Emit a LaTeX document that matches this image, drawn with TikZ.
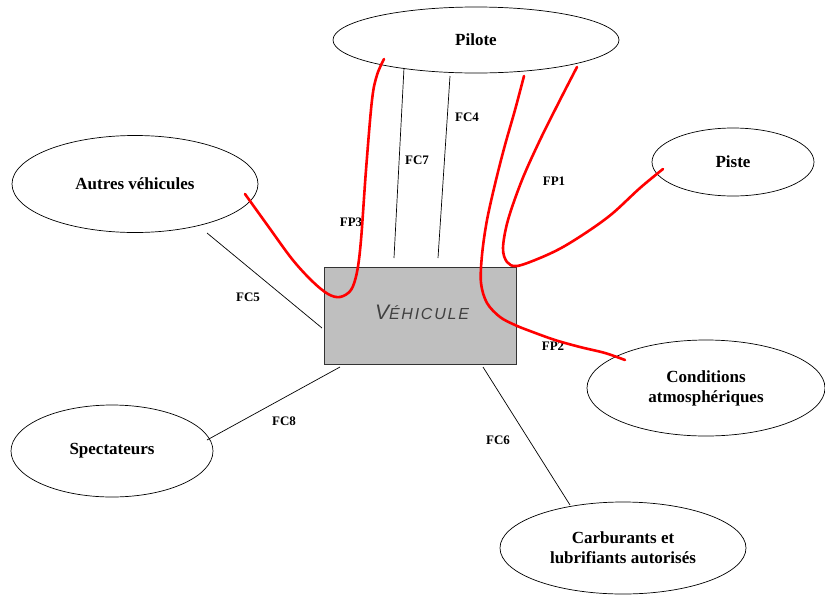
\documentclass[tikz,border=0pt]{standalone}
\usepackage{fontspec}
\setmainfont{Liberation Serif}
\newfontfamily\vehfont[LetterSpace=11]{Liberation Sans}
\usetikzlibrary{shapes.geometric}
\begin{document}
\begin{tikzpicture}[x=1pt,y=-1pt,
  ent/.style={ellipse,draw=black,line width=0.7pt,fill=white,inner sep=0pt,
    font=\fontsize{17}{20}\selectfont\bfseries,align=center},
  lbl/.style={font=\fontsize{13}{15}\selectfont\bfseries,inner sep=0pt},
  fc/.style={draw=black,line width=0.7pt},
  fp/.style={draw=red,line width=2.6pt,line cap=round,line join=round},
]
\useasboundingbox (0,0) rectangle (825,595);

% entities
\node[ent,minimum width=286pt,minimum height=66pt] (pilote) at (476,40) {Pilote};
\node[ent,minimum width=246pt,minimum height=97pt] (autres) at (135,184) {Autres véhicules};
\node[ent,minimum width=162pt,minimum height=68pt] (piste) at (733,162) {Piste};
\node[ent,minimum width=238pt,minimum height=96pt] (cond) at (706,388) {Conditions\\atmosphériques};
\node[ent,minimum width=202pt,minimum height=92pt] (spect) at (112,451) {Spectateurs};
\node[ent,minimum width=246pt,minimum height=92pt] (carb) at (623,548) {Carburants et\\lubrifiants autorisés};

% vehicle
\node[draw=black!80,line width=0.7pt,fill=black!25,minimum width=192pt,minimum height=97pt,inner sep=0pt]
  (veh) at (420,315.5) {};
\node[inner sep=0pt,text=black!75] (vehlbl) at (422,312)
  {\vehfont\itshape\fontsize{21}{21}\selectfont V\fontsize{16}{16}\selectfont ÉHICULE};

% black connector end points
\coordinate (fc7a) at (404,68);  \coordinate (fc7b) at (394,258);
\coordinate (fc4a) at (450,76);  \coordinate (fc4b) at (438,258);
\coordinate (fc5a) at (207,233); \coordinate (fc5b) at (322,328);
\coordinate (fc8a) at (340,367); \coordinate (fc8b) at (207,440);
\coordinate (fc6a) at (483,367); \coordinate (fc6b) at (570,505);

\draw[fc] (fc7a) -- (fc7b);
\draw[fc] (fc4a) -- (fc4b);
\draw[fc] (fc5a) -- (fc5b);
\draw[fc] (fc8a) -- (fc8b);
\draw[fc] (fc6a) -- (fc6b);

% labels
\node[lbl] (lfc4) at (467,117) {FC4};
\node[lbl] (lfc7) at (417,160) {FC7};
\node[lbl] (lfp3) at (351,222) {FP3};
\node[lbl] (lfp1) at (554,181) {FP1};
\node[lbl] (lfc5) at (248,297) {FC5};
\node[lbl] (lfp2) at (553,346) {FP2};
\node[lbl] (lfc8) at (284,421) {FC8};
\node[lbl] (lfc6) at (498,440) {FC6};

% red flows
\coordinate (fp3a) at (245,194); \coordinate (fp3b) at (384,59);
\coordinate (fp1a) at (577,67);  \coordinate (fp1b) at (663,169);
\coordinate (fp2a) at (524,76);  \coordinate (fp2b) at (625,360);

\draw[fp] plot[smooth,tension=0.55] coordinates {(fp3a) (268,226) (292,259) (312,281) (328,294) (340,297) (351,290) (357,272) (361,240) (366,170) (372,100) (377,75) (fp3b)};
\draw[fp] plot[smooth,tension=0.55] coordinates {(fp1a) (560,100) (540,140) (522,180) (508,220) (503,248) (507,262) (517,266) (540,258) (563,247) (590,230) (613,213) (640,188) (fp1b)};
\draw[fp] plot[smooth,tension=0.55] coordinates {(fp2a) (515,110) (505,145) (496,180) (487,220) (482,255) (481,283) (487,303) (500,317) (515,325) (530,331) (555,340) (580,347) (605,353) (fp2b)};
\end{tikzpicture}
\end{document}
